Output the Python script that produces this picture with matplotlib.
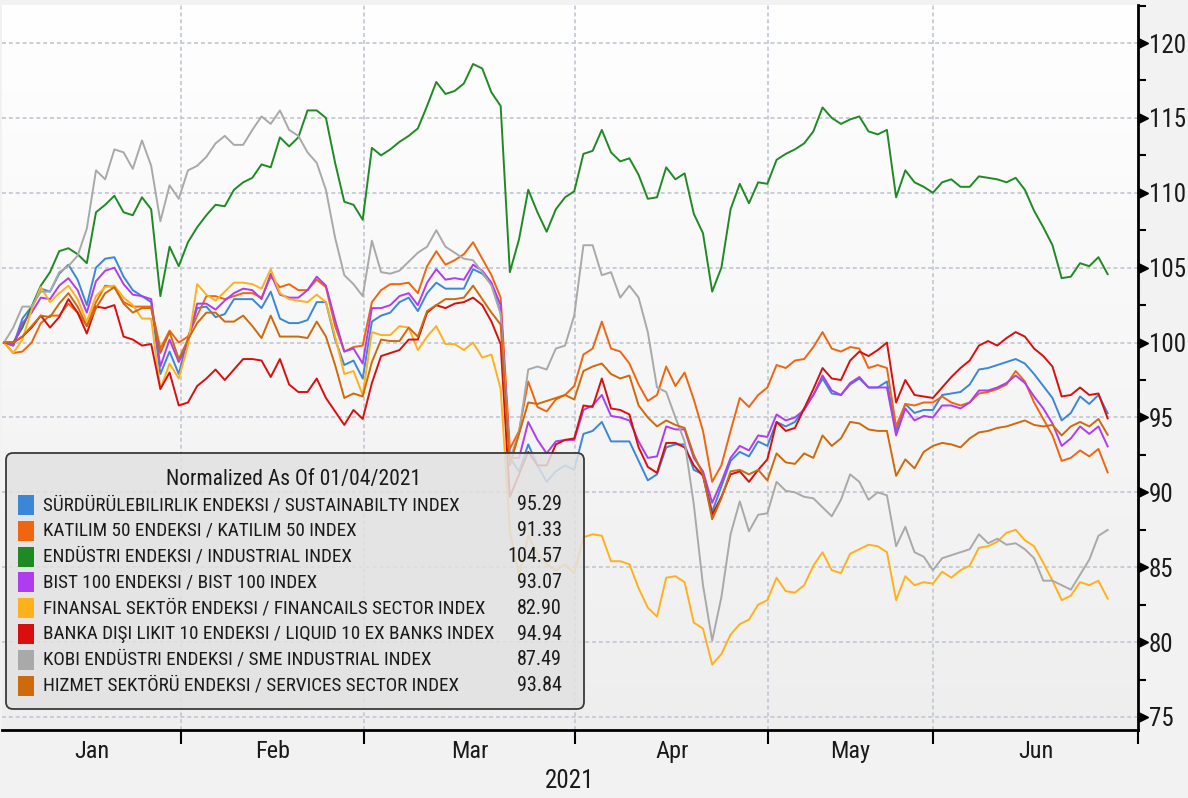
import numpy as np
import matplotlib
matplotlib.use("Agg")
import matplotlib.pyplot as plt
from matplotlib.patches import FancyBboxPatch, Rectangle
from matplotlib.transforms import IdentityTransform, blended_transform_factory
from matplotlib.colors import LinearSegmentedColormap

# ==========================================
# DATA (normalized, trading days 04/01/2021 - 25/06/2021)
# ==========================================

sustainability = [
    100.0, 99.8, 101.6, 102.4, 103.6, 103.4, 104.6, 105.2, 104.2, 102.5,
    105.0, 105.6, 105.7, 104.4, 103.5, 103.1, 102.7, 97.9, 99.4, 97.9,
    100.3, 102.3, 102.4, 101.7, 101.9, 102.9, 102.9, 102.9, 102.3, 103.4,
    101.6, 101.3, 101.3, 101.5, 102.7, 102.7, 100.2, 98.5, 98.8, 97.6,
    101.4, 101.8, 102.0, 102.7, 103.0, 102.1, 103.3, 104.0, 103.6, 103.6,
    103.6, 104.9, 104.6, 103.9, 102.0, 92.3, 91.4, 93.2, 91.8, 90.7,
    91.4, 91.8, 91.5, 93.9, 94.1, 94.7, 93.4, 93.4, 93.4, 92.1,
    90.8, 91.2, 93.0, 93.2, 93.2, 91.5, 91.2, 88.7, 90.4, 92.1,
    92.7, 92.4, 93.4, 93.1, 94.7, 94.4, 94.7, 95.6, 96.5, 97.6,
    96.6, 96.5, 97.2, 97.6, 97.0, 97.0, 97.4, 94.1, 95.9, 95.3,
    95.5, 95.5, 96.5, 96.6, 96.7, 97.2, 98.2, 98.3, 98.5, 98.7,
    98.9, 98.6, 97.9, 97.1, 96.3, 94.8, 95.3, 96.4, 95.9, 96.5,
    95.29,
]

katilim50 = [
    100.0, 99.3, 99.4, 100.0, 101.3, 101.8, 101.8, 102.6, 102.0, 101.1,
    102.7, 103.8, 103.7, 102.7, 102.4, 102.4, 102.4, 99.6, 100.8, 100.0,
    100.4, 101.8, 103.1, 103.1, 102.9, 103.1, 103.3, 103.3, 103.0, 104.4,
    103.7, 103.9, 103.5, 103.5, 104.2, 103.7, 101.1, 99.4, 99.7, 99.8,
    102.7, 103.5, 103.9, 103.9, 104.0, 103.3, 105.1, 106.1, 105.2, 105.5,
    105.9, 106.7, 105.6, 104.5, 103.0, 92.9, 94.1, 97.4, 95.7, 95.4,
    96.2, 96.5, 97.1, 99.2, 99.6, 101.4, 99.6, 99.4, 98.6, 97.2,
    96.1, 96.5, 98.4, 97.1, 98.0, 96.2, 94.1, 90.7, 91.8, 94.1,
    96.3, 95.7, 96.5, 97.0, 98.5, 98.3, 98.8, 98.9, 99.7, 100.7,
    99.6, 99.4, 99.7, 99.6, 98.3, 98.5, 98.3, 94.4, 95.9, 95.8,
    96.0, 96.0, 96.4, 96.0, 95.8, 96.0, 96.6, 96.7, 96.9, 97.2,
    98.1, 97.4, 96.0, 94.9, 93.8, 92.1, 92.3, 92.8, 92.4, 92.9,
    91.33,
]

industrial = [
    100.0, 100.0, 101.0, 102.4, 103.8, 104.7, 106.1, 106.3, 105.9, 105.3,
    108.7, 109.2, 109.8, 108.7, 108.5, 109.7, 108.9, 103.1, 106.4, 105.1,
    106.7, 107.7, 108.5, 109.2, 109.1, 110.2, 110.7, 111.0, 111.9, 111.7,
    113.7, 113.1, 113.7, 115.5, 115.5, 115.0, 112.0, 109.4, 109.2, 108.2,
    113.0, 112.5, 112.9, 113.4, 113.8, 114.3, 115.8, 117.4, 116.6, 116.8,
    117.3, 118.6, 118.3, 116.7, 115.8, 104.7, 106.9, 110.2, 108.7, 107.4,
    108.9, 109.7, 110.1, 112.6, 112.8, 114.2, 112.7, 112.1, 112.3, 111.2,
    109.6, 109.7, 111.7, 110.9, 111.3, 108.6, 107.3, 103.4, 105.0, 108.9,
    110.6, 109.3, 110.7, 110.6, 112.2, 112.6, 112.9, 113.3, 114.1, 115.7,
    115.0, 114.6, 114.9, 115.1, 114.1, 113.9, 114.2, 109.7, 111.5, 110.7,
    110.4, 110.0, 110.7, 110.9, 110.4, 110.4, 111.1, 111.0, 110.9, 110.7,
    111.0, 110.2, 108.8, 107.7, 106.5, 104.3, 104.4, 105.3, 105.1, 105.7,
    104.57,
]

bist100 = [
    100.0, 99.8, 101.3, 102.0, 103.0, 102.9, 103.8, 104.3, 103.5, 102.0,
    104.1, 104.8, 105.0, 103.9, 103.2, 103.1, 102.9, 98.4, 100.2, 98.7,
    100.0, 102.6, 102.6, 102.2, 102.8, 103.3, 103.6, 103.5, 102.9, 104.6,
    103.2, 103.0, 103.0, 103.5, 104.4, 103.8, 101.5, 99.4, 99.6, 98.6,
    102.3, 102.3, 102.5, 103.1, 103.3, 102.5, 104.0, 104.9, 104.2, 104.3,
    104.2, 105.2, 104.8, 104.0, 102.5, 92.3, 92.3, 94.7, 93.5, 92.6,
    93.4, 93.5, 93.5, 95.5, 95.8, 96.5, 95.1, 95.0, 94.8, 93.4,
    92.3, 92.4, 94.4, 94.2, 94.2, 92.3, 91.4, 89.3, 90.7, 92.3,
    93.1, 92.8, 93.8, 93.7, 95.2, 94.8, 95.0, 95.5, 96.5, 97.8,
    96.8, 96.5, 97.3, 97.7, 97.0, 97.0, 97.0, 93.8, 95.6, 94.8,
    95.1, 95.0, 95.8, 95.8, 95.6, 96.0, 96.8, 96.8, 97.0, 97.3,
    97.8, 97.3, 96.4, 95.6, 94.6, 93.1, 93.6, 94.4, 93.9, 94.4,
    93.07,
]

financials = [
    100.0, 99.3, 100.2, 102.2, 103.7, 102.7, 103.3, 103.8, 102.9, 101.4,
    103.1, 103.7, 103.8, 103.0, 102.5, 101.6, 101.6, 96.9, 98.6, 97.6,
    99.8, 103.9, 103.2, 102.8, 103.4, 104.0, 104.0, 103.9, 103.6, 104.9,
    103.3, 102.9, 102.8, 102.7, 103.2, 102.7, 100.4, 97.9, 98.1, 96.5,
    100.7, 100.5, 100.5, 101.1, 101.0, 99.5, 100.4, 101.1, 99.9, 99.9,
    99.5, 100.0, 99.0, 99.2, 96.9, 87.4, 84.4, 87.1, 85.9, 85.2,
    84.8, 85.2, 84.6, 87.0, 87.2, 87.1, 85.4, 85.4, 85.2, 83.6,
    82.3, 81.7, 84.3, 84.4, 84.0, 81.3, 80.9, 78.5, 79.2, 80.5,
    81.2, 81.5, 82.5, 82.8, 84.3, 83.4, 83.3, 83.8, 85.1, 86.0,
    84.8, 84.6, 85.9, 86.2, 86.5, 86.4, 86.0, 82.8, 84.4, 83.8,
    84.0, 83.9, 84.7, 84.3, 84.8, 85.1, 86.3, 86.4, 86.7, 87.3,
    87.5, 86.8, 86.4, 85.3, 84.1, 82.8, 83.1, 84.0, 83.8, 84.1,
    82.90,
]

liquid10_ex_banks = [
    100.0, 100.0, 100.4, 101.0, 101.8, 101.0, 101.7, 102.9, 102.0, 100.6,
    102.4, 102.3, 102.5, 100.4, 100.2, 99.8, 99.9, 96.9, 98.0, 95.8,
    96.0, 97.1, 97.6, 98.2, 97.5, 98.2, 98.9, 98.9, 98.8, 97.7,
    98.9, 97.2, 96.7, 96.7, 97.6, 96.3, 95.4, 94.5, 95.5, 94.9,
    97.3, 99.1, 99.3, 99.5, 100.2, 100.2, 102.0, 102.5, 102.3, 102.6,
    102.7, 103.0, 102.5, 101.4, 99.9, 89.7, 91.2, 92.7, 91.8, 91.8,
    93.2, 93.5, 93.6, 95.8, 95.7, 97.6, 95.6, 95.5, 95.2, 93.0,
    91.7, 91.3, 93.3, 93.3, 93.0, 91.8, 91.1, 88.5, 89.7, 91.2,
    91.4, 90.7, 91.5, 92.2, 94.7, 94.1, 94.3, 95.6, 96.9, 98.3,
    97.6, 97.5, 98.8, 99.4, 99.1, 99.5, 100.0, 96.0, 97.5, 96.5,
    96.4, 96.3, 97.0, 97.7, 98.3, 98.8, 99.8, 100.1, 99.8, 100.3,
    100.7, 100.4, 99.6, 99.1, 98.4, 96.4, 96.5, 97.0, 96.5, 96.6,
    94.94,
]

sme_industrial = [
    100.0, 101.0, 102.4, 102.4, 103.4, 103.4, 104.7, 105.1, 105.8, 107.6,
    111.5, 110.9, 112.9, 112.7, 111.6, 113.5, 111.8, 108.1, 110.5, 109.6,
    111.5, 111.8, 112.4, 113.3, 113.8, 113.2, 113.2, 114.2, 115.1, 114.6,
    115.5, 114.2, 113.8, 112.7, 112.0, 110.2, 107.0, 104.5, 103.9, 103.1,
    106.8, 104.7, 104.6, 104.8, 105.4, 106.0, 106.4, 107.5, 106.4, 106.0,
    105.6, 105.5, 104.7, 103.8, 101.9, 92.2, 94.0, 98.2, 98.4, 98.2,
    99.6, 99.8, 101.8, 106.5, 106.5, 104.5, 104.7, 103.0, 103.8, 103.0,
    100.7, 97.0, 96.7, 95.0, 93.4, 89.2, 83.8, 80.1, 83.0, 87.2,
    89.4, 87.4, 88.5, 88.6, 90.7, 90.1, 90.0, 89.7, 89.6, 89.0,
    88.4, 89.5, 91.2, 90.7, 89.5, 90.0, 89.8, 86.4, 87.7, 86.0,
    85.7, 84.8, 85.6, 85.8, 86.0, 86.2, 87.2, 86.6, 86.9, 86.5,
    86.6, 86.2, 85.6, 84.1, 84.1, 83.8, 83.5, 84.5, 85.5, 87.1,
    87.49,
]

services = [
    100.0, 100.0, 100.4, 101.1, 101.8, 101.7, 102.6, 103.3, 102.4, 101.1,
    102.3, 103.3, 103.7, 102.6, 102.0, 102.3, 102.3, 99.3, 100.7, 98.9,
    100.2, 101.3, 102.0, 102.0, 101.4, 101.4, 101.8, 101.1, 100.3, 101.8,
    100.4, 100.4, 100.4, 100.3, 101.4, 100.4, 98.5, 96.3, 96.6, 96.4,
    98.7, 100.2, 100.1, 100.1, 101.0, 100.4, 102.1, 102.5, 102.9, 102.9,
    103.0, 103.8, 102.9, 102.0, 101.2, 91.8, 93.9, 96.0, 95.9, 96.1,
    96.3, 96.5, 96.2, 98.1, 98.4, 98.6, 97.9, 97.6, 97.8, 95.8,
    95.0, 94.4, 94.8, 94.5, 94.3, 92.5, 91.2, 88.2, 89.6, 91.4,
    91.5, 91.2, 91.5, 90.8, 92.6, 92.0, 91.9, 92.6, 92.3, 93.8,
    93.1, 93.6, 94.7, 94.6, 94.2, 94.1, 94.1, 91.1, 92.2, 91.6,
    92.7, 93.1, 93.3, 93.2, 93.0, 93.6, 94.0, 94.1, 94.3, 94.4,
    94.6, 94.8, 94.5, 94.4, 94.5, 93.8, 94.4, 94.7, 94.4, 94.9,
    93.84,
]

labels = [
    "SÜRDÜRÜLEBILIRLIK ENDEKSI / SUSTAINABILTY INDEX",
    "KATILIM 50 ENDEKSI / KATILIM 50 INDEX",
    "ENDÜSTRI ENDEKSI / INDUSTRIAL INDEX",
    "BIST 100 ENDEKSI / BIST 100 INDEX",
    "FINANSAL SEKTÖR ENDEKSI / FINANCAILS SECTOR INDEX",
    "BANKA DIŞI LIKIT 10 ENDEKSI / LIQUID 10 EX BANKS INDEX",
    "KOBI ENDÜSTRI ENDEKSI / SME INDUSTRIAL INDEX",
    "HIZMET SEKTÖRÜ ENDEKSI / SERVICES SECTOR INDEX",
]

colors = ["#3a87d8", "#f0650f", "#1f8a24", "#b03cf0",
          "#ffb11c", "#d90f0f", "#a9a9a9", "#cc6a0c"]

months = ["Jan", "Feb", "Mar", "Apr", "May", "Jun"]

# month boundaries in trading-day index
month_edges = [19.25, 39.15, 62.1, 83.1, 101.0]

series = [sustainability, katilim50, industrial, bist100,
          financials, liquid10_ex_banks, sme_industrial, services]

# ==========================================
# FIGURE
# ==========================================

W, H = 1188, 798
plt.rcParams["font.family"] = ["Roboto Condensed", "DejaVu Sans"]
TXT = "#1a1a1a"

fig = plt.figure(figsize=(W / 100, H / 100), dpi=100, facecolor="#f2f2f2")
ax = fig.add_axes([2 / W, 1 - 730 / H, 1136 / W, 725 / H])

x_min, x_max = -0.22, 123.3
y_min, y_max = 74.13, 122.54

bg = LinearSegmentedColormap.from_list("bg", ["#eeeeee", "#ffffff"])
ax.imshow(np.linspace(0, 1, 256).reshape(-1, 1), extent=[0, 1, 0, 1],
          transform=ax.transAxes, cmap=bg, aspect="auto", origin="lower",
          zorder=0)

x = np.arange(len(industrial))
for values, color in zip(series, colors):
    ax.plot(x, values, color=color, lw=1.4, zorder=3)

ax.set_xlim(x_min, x_max)
ax.set_ylim(y_min, y_max)

# x axis: ticks on month boundaries, labels in between
ax.set_xticks(month_edges + [x_max - 0.01])
ax.set_xticklabels([])
edges = [x_min] + month_edges + [x_max]
ax.set_xticks([(a + b) / 2 for a, b in zip(edges[:-1], edges[1:])], minor=True)
ax.set_xticklabels(months, minor=True, fontsize=17.5, color=TXT)
ax.tick_params(axis="x", which="major", length=10, width=1.5, color="black")
ax.tick_params(axis="x", which="minor", length=0, pad=7)

# y axis on the right
ax.yaxis.tick_right()
ax.set_yticks(np.arange(75, 121, 5))
ax.set_yticks(np.arange(77.5, 123, 5), minor=True)
ax.tick_params(axis="y", which="major", length=0, pad=8, labelsize=18,
               labelcolor=TXT)
ax.tick_params(axis="y", which="minor", length=6, width=1.5, color="black")

ax.grid(True, which="major", color="#c6cad3", lw=1.3, ls=(0, (2.2, 1.6)))
ax.set_axisbelow(True)

for side in ["top", "left"]:
    ax.spines[side].set_visible(False)
for side in ["right", "bottom"]:
    ax.spines[side].set_linewidth(2)
    ax.spines[side].set_color("black")

# triangle markers on the major y ticks
trans = blended_transform_factory(ax.transAxes, ax.transData)
ax.plot([1.004] * 10, np.arange(75, 121, 5), ls="none", marker=">",
        ms=7, color="black", transform=trans, clip_on=False, zorder=5)

fig.text(570 / W, 1 - 781 / H, "2021", fontsize=18, ha="center",
         va="center", color=TXT)

# ==========================================
# LEGEND
# ==========================================

ident = IdentityTransform()
box = FancyBboxPatch((6, H - 709), 578, 256,
                     boxstyle="round,pad=0,rounding_size=7",
                     transform=ident, fc=(0.885, 0.885, 0.885, 0.85),
                     ec="#3a3a3a", lw=1.3, zorder=10)
fig.add_artist(box)

fig.text(294, H - 480, "Normalized As Of 01/04/2021", transform=ident,
         fontsize=15.5, ha="center", va="center", color=TXT, zorder=11)

for k, (label, color, values) in enumerate(zip(labels, colors, series)):
    yc = 505 + k * 25.8
    fig.add_artist(Rectangle((18, H - yc - 10), 16, 20, transform=ident,
                             fc=color, ec="none", zorder=11))
    fig.text(43, H - yc, label, transform=ident, fontsize=13.8,
             ha="left", va="center", color=TXT, zorder=11)
    fig.text(562, H - yc, f"{values[-1]:.2f}", transform=ident,
             fontsize=14.5, ha="right", va="center", color=TXT, zorder=11)

fig.savefig("out.png", dpi=100, facecolor=fig.get_facecolor())
